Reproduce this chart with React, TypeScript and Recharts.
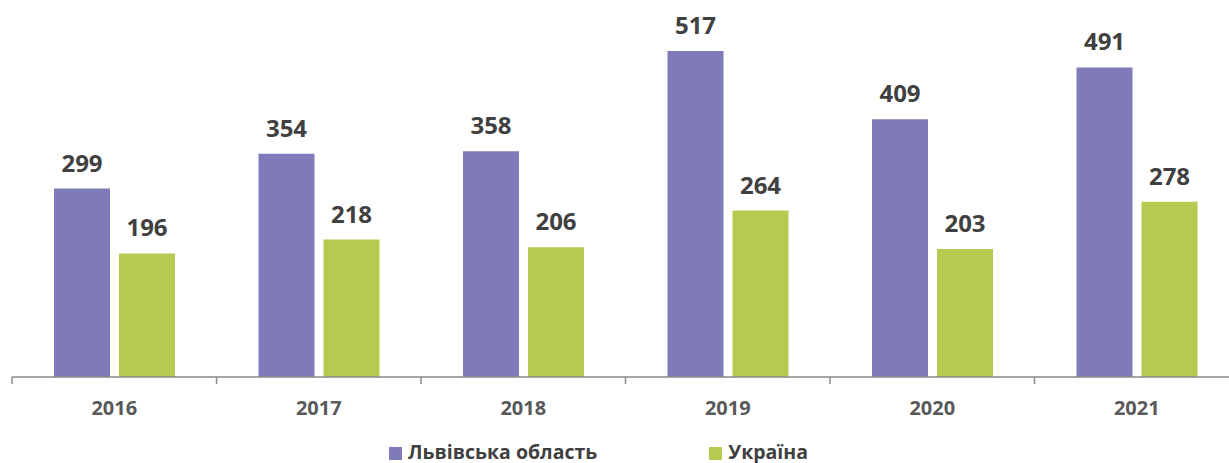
import { BarChart, Bar, XAxis, YAxis, Legend, LabelList } from "recharts"

// ------------------------------------------------------------------
// Data
// ------------------------------------------------------------------

const years = ["2016", "2017", "2018", "2019", "2020", "2021"]
const lvivValues = [299, 354, 358, 517, 409, 491]
const ukraineValues = [196, 218, 206, 264, 203, 278]

const series = [
    { key: "lviv", name: "Львівська область", color: "#7F7BBA", values: lvivValues },
    { key: "ukraine", name: "Україна", color: "#B4CB4F", values: ukraineValues },
]

const data = years.map((year, i) => ({
    year,
    lviv: lvivValues[i],
    ukraine: ukraineValues[i],
}))

// ------------------------------------------------------------------
// Layout
// ------------------------------------------------------------------

const CHART_W = 1245
const CHART_H = 463
const MARGIN = { top: 24, right: 6, left: 12, bottom: 0 }
const PLOT_W = CHART_W - MARGIN.left - MARGIN.right
const BAND = PLOT_W / years.length
const FONT = "'Open Sans', 'Noto Sans', sans-serif"

// ------------------------------------------------------------------
// Axis tick: label centred, tick marks on category boundaries
// ------------------------------------------------------------------

function YearTick(props: any) {
    const { x, y, payload, index, visibleTicksCount } = props
    const half = BAND / 2
    const isLast = index === (visibleTicksCount ?? years.length) - 1
    return (
        <g>
            <line x1={x - half} y1={y} x2={x - half} y2={y + 7} stroke="#898989" strokeWidth={1.5} />
            {isLast && <line x1={x + half} y1={y} x2={x + half} y2={y + 7} stroke="#898989" strokeWidth={1.5} />}
            <text
                x={x}
                y={y + 38}
                textAnchor="middle"
                fill="#595959"
                fontSize={20}
                fontWeight={700}
                fontFamily={FONT}
            >
                {payload.value}
            </text>
        </g>
    )
}

// ------------------------------------------------------------------
// Legend
// ------------------------------------------------------------------

function ChartLegend() {
    return (
        <div
            style={{
                height: 22,
                display: "flex",
                alignItems: "center",
                paddingLeft: 389,
                fontFamily: FONT,
                fontWeight: 700,
                fontSize: 19.5,
                color: "#404040",
            }}
        >
            {series.map((s, i) => (
                <div
                    key={s.key}
                    style={{ display: "flex", alignItems: "center", marginRight: i === 0 ? 112 : 0, lineHeight: "22px" }}
                >
                    <span
                        style={{
                            width: 13,
                            height: 13,
                            background: s.color,
                            marginRight: 6,
                            marginTop: 2,
                            display: "inline-block",
                        }}
                    />
                    <span>{s.name}</span>
                </div>
            ))}
        </div>
    )
}

// ------------------------------------------------------------------
// Chart
// ------------------------------------------------------------------

export default function App() {
    return (
        <div
            style={{
                position: "absolute",
                top: 0,
                left: 0,
                width: 1229,
                height: 463,
                overflow: "hidden",
                background: "#fff",
            }}
        >
            <BarChart width={CHART_W} height={CHART_H} data={data} margin={MARGIN} barSize={56} barGap={9}>
                <XAxis
                    dataKey="year"
                    height={64}
                    tickLine={false}
                    tickSize={0}
                    tickMargin={0}
                    axisLine={{ stroke: "#898989", strokeWidth: 1.5 }}
                    tick={<YearTick />}
                    interval={0}
                />
                <YAxis hide domain={[0, 560]} />
                <Legend
                    content={<ChartLegend />}
                    wrapperStyle={{ position: "absolute", top: 441, left: 0, width: 1229, height: 22 }}
                />
                {series.map((s) => (
                    <Bar key={s.key} dataKey={s.key} name={s.name} fill={s.color} isAnimationActive={false}>
                        <LabelList
                            dataKey={s.key}
                            position="top"
                            offset={17}
                            fill="#404040"
                            fontSize={24}
                            fontWeight={700}
                            fontFamily={FONT}
                        />
                    </Bar>
                ))}
            </BarChart>
        </div>
    )
}
